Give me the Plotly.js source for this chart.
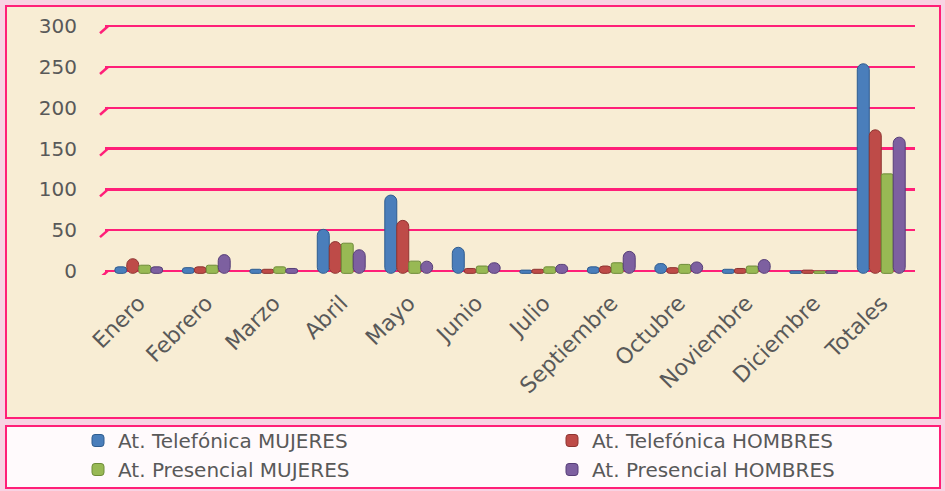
<!DOCTYPE html>
<html>
<head>
<meta charset="utf-8">
<script src="https://cdn.plot.ly/plotly-3.0.1.min.js"></script>
<style>html,body{margin:0;padding:0;background:#F8D3E3;}#chart{width:945px;height:491px;}</style>
</head>
<body>
<div id="chart"></div>
<script>
// ---- data ----
const categories = ['Enero','Febrero','Marzo','Abril','Mayo','Junio','Julio','Septiembre','Octubre','Noviembre','Diciembre','Totales'];
const telMujeres = [8, 7, 5, 54, 96, 32, 4, 8, 12, 5, 3, 257];
const telHombres = [18, 8, 5, 39, 65, 6, 5, 9, 7, 6, 4, 176];
const preMujeres = [10, 10, 8, 37, 15, 9, 8, 13, 11, 9, 3, 122];
const preHombres = [8, 23, 6, 29, 15, 13, 11, 27, 14, 17, 3, 167];
const seriesNames = ['At. Telefónica MUJERES','At. Telefónica HOMBRES','At. Presencial MUJERES','At. Presencial HOMBRES'];
const yTicks = [0, 50, 100, 150, 200, 250, 300];

// ---- styles ----
const colors = ['#4A7EBB', '#BE4B48', '#98B954', '#7D60A0'];
const lines  = ['#2F5C8F', '#8E3431', '#6E8C38', '#573F78'];
const radius = [6, 6, 2, 6];
const legendOf = ['legend', 'legend2', 'legend', 'legend2'];
const pink = '#FF1F78';
const textColor = '#595959';
const BASE = -3;

const allSeries = [telMujeres, telHombres, preMujeres, preHombres];
const traces = allSeries.map((vals, i) => ({
  type: 'bar',
  name: seriesNames[i],
  x: categories,
  y: vals,
  base: BASE,
  legend: legendOf[i],
  marker: {color: colors[i], line: {color: lines[i], width: 1}, cornerradius: radius[i]},
  hoverinfo: 'x+y+name'
}));

const dotSvg = "<svg xmlns='http://www.w3.org/2000/svg' width='932' height='60'><defs><pattern id='p' width='24' height='19' patternUnits='userSpaceOnUse'><circle cx='4' cy='5' r='1' fill='#F06FA5'/><circle cx='16' cy='14.5' r='1' fill='#F06FA5'/></pattern></defs><rect width='932' height='60' fill='url(#p)'/></svg>";

// paper coords helpers (plot area: x 105..915, y 25..275)
const px2x = px => (px - 105) / 810;
const px2y = py => 1 - (py - 25) / 250;

const shapes = [
  {type:'rect', xref:'paper', yref:'paper', x0:px2x(6), x1:px2x(940), y0:px2y(418), y1:px2y(6),
   fillcolor:'#F8EDD4', line:{color:pink, width:2}, layer:'below'},
  {type:'rect', xref:'paper', yref:'paper', x0:px2x(6), x1:px2x(940), y0:px2y(488), y1:px2y(426),
   fillcolor:'#FFFAFC', line:{color:pink, width:2}, layer:'below'}
];
yTicks.forEach(v => {
  shapes.push({type:'line', xref:'paper', yref:'y', xsizemode:'pixel', xanchor:0, x0:-5, x1:3,
    ysizemode:'pixel', yanchor:v, y0:-7, y1:0, line:{color:pink, width:2.5}, layer:'below'});
});

const legendFont = {size:20, color:textColor, family:'DejaVu Sans'};
const layout = {
  width: 945, height: 491,
  margin: {l:105, r:30, t:25, b:216, autoexpand:false},
  paper_bgcolor: '#F8D3E3',
  plot_bgcolor: 'rgba(0,0,0,0)',
  font: {family:'DejaVu Sans', color:textColor, size:20},
  barmode: 'group',
  bargap: 0.29,
  bargroupgap: 0,
  showlegend: true,
  legend: {orientation:'v', x:px2x(78), xanchor:'left', y:px2y(421), yanchor:'top',
    bgcolor:'rgba(0,0,0,0)', font:legendFont, traceorder:'normal', itemclick:false, tracegroupgap:0},
  legend2: {orientation:'v', x:px2x(552), xanchor:'left', y:px2y(421), yanchor:'top',
    bgcolor:'rgba(0,0,0,0)', font:legendFont, traceorder:'normal', itemclick:false, tracegroupgap:0},
  xaxis: {type:'category', tickangle:-45, showgrid:false, showline:false, zeroline:false, ticks:'',
    ticklabelstandoff:10, tickfont:{size:22, color:textColor}},
  yaxis: {range:[-5, 301.5], tickvals: yTicks, showgrid:true, gridcolor:pink, gridwidth:2.5,
    zeroline:false, showline:false, ticks:'', ticklabelstandoff:27, tickfont:{size:20, color:textColor}},
  shapes: shapes,
  images: [{source:'data:image/svg+xml;charset=utf-8,' + encodeURIComponent(dotSvg),
    xref:'paper', yref:'paper', x:px2x(8), y:px2y(427), sizex:px2x(938)-px2x(8), sizey:px2y(427)-px2y(487),
    xanchor:'left', yanchor:'top', sizing:'stretch', layer:'below'}]
};

Plotly.newPlot('chart', traces, layout, {displayModeBar:false, staticPlot:true});
</script>
</body>
</html>
